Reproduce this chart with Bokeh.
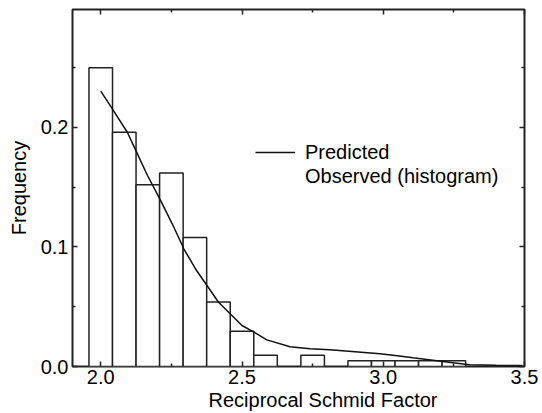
from bokeh.plotting import figure
from bokeh.models import (LinearAxis, FixedTicker, PrintfTickFormatter, Range1d,
                          Legend, LegendItem, Title, ColumnDataSource,
                          CustomJSTickFormatter)
from bokeh.embed import file_html
from bokeh.resources import INLINE

# ---- data ----
bin_centers = [2.0, 2.0833, 2.1667, 2.25, 2.3333, 2.4167, 2.5, 2.5833, 2.75,
               2.9167, 3.0, 3.0833, 3.1667, 3.25]
observed = [0.250, 0.196, 0.152, 0.162, 0.108, 0.054, 0.0294, 0.0095, 0.0095,
            0.0049, 0.0049, 0.0049, 0.0049, 0.0049]
BIN_WIDTH = 1.0 / 12.0

pred_x = [2.0, 2.041, 2.094, 2.124, 2.165, 2.209, 2.253, 2.294, 2.335, 2.376,
          2.417, 2.458, 2.5, 2.541, 2.588, 2.670, 2.741, 2.811, 2.90, 2.988,
          3.05, 3.105, 3.211, 3.305, 3.40, 3.493]
pred_y = [0.2304, 0.2156, 0.196, 0.1808, 0.160, 0.1403, 0.1194, 0.0985, 0.0818,
          0.0678, 0.0538, 0.0441, 0.0343, 0.0290, 0.0223, 0.0165, 0.0148, 0.0140,
          0.0124, 0.0106, 0.0090, 0.0073, 0.0042, 0.0014, 0.0010, 0.0008]

x_major = [2.0, 2.5, 3.0, 3.5]
x_minor = [2.25, 2.75, 3.25]
y_major = [0.0, 0.1, 0.2]
y_minor = [0.05, 0.15, 0.25]

FONT = "Liberation Sans"
FS = "20px"

p = figure(width=542, height=413, output_backend="svg", toolbar_location=None,
           x_range=Range1d(1.9, 3.5), y_range=Range1d(0.0, 0.2987),
           min_border_left=72, min_border_right=18, min_border_top=9,
           min_border_bottom=47)
p.background_fill_color = "white"
p.border_fill_color = "white"
p.grid.visible = False
p.outline_line_color = "#222222"
p.outline_line_width = 2

src = ColumnDataSource(dict(
    left=[c - BIN_WIDTH / 2 for c in bin_centers],
    right=[c + BIN_WIDTH / 2 for c in bin_centers],
    top=observed,
    bottom=[0.0] * len(observed)))
bars = p.quad(left="left", right="right", top="top", bottom="bottom", source=src,
              fill_color="white", line_color="#222222", line_width=1.5)

line = p.line(pred_x, pred_y, line_color="#111111", line_width=1.5)
dummy = p.scatter([2.0], [0.0], size=0, fill_alpha=0, line_alpha=0)

def style_axis(ax, ticks, minor, labels=True):
    ax.ticker = FixedTicker(ticks=ticks, minor_ticks=minor)
    ax.axis_line_color = None
    ax.major_tick_in = 5
    ax.major_tick_out = 0
    ax.minor_tick_in = 3
    ax.minor_tick_out = 0
    ax.major_tick_line_color = "#222222"
    ax.minor_tick_line_color = "#222222"
    ax.major_tick_line_width = 1.5
    ax.minor_tick_line_width = 1.5
    if labels:
        ax.formatter = PrintfTickFormatter(format="%.1f")
        ax.major_label_text_font = FONT
        ax.major_label_text_font_size = FS
        ax.major_label_text_color = "black"
    else:
        ax.formatter = CustomJSTickFormatter(code="return ''")
        ax.major_label_text_font_size = "1px"
        ax.major_label_standoff = 0

xa = p.xaxis[0]
style_axis(xa, x_major, x_minor)
xa.major_label_standoff = 3

ya = p.yaxis[0]
style_axis(ya, y_major, y_minor)
ya.major_label_standoff = 4
ya.axis_label = "Frequency"
ya.axis_label_text_font = FONT
ya.axis_label_text_font_size = FS
ya.axis_label_text_font_style = "normal"
ya.axis_label_text_color = "black"
ya.axis_label_standoff = 8

top_ax = LinearAxis()
style_axis(top_ax, x_major, x_minor, labels=False)
p.add_layout(top_ax, "above")
right_ax = LinearAxis()
style_axis(right_ax, y_major, y_minor, labels=False)
p.add_layout(right_ax, "right")

xtitle = Title(text="Reciprocal Schmid Factor", align="left", offset=136,
               text_font=FONT, text_font_size=FS, text_font_style="normal",
               text_color="black", standoff=0)
p.add_layout(xtitle, "below")

legend = Legend(items=[LegendItem(label="Predicted", renderers=[line]),
                       LegendItem(label="Observed (histogram)", renderers=[dummy])],
                location=(183, 178), padding=0, margin=0, spacing=0,
                glyph_width=40, glyph_height=24, label_height=24,
                label_standoff=10, label_text_font=FONT,
                label_text_font_size=FS, label_text_color="black",
                border_line_color=None, background_fill_alpha=0)
p.add_layout(legend)

open("out.html", "w").write(file_html(p, INLINE))
